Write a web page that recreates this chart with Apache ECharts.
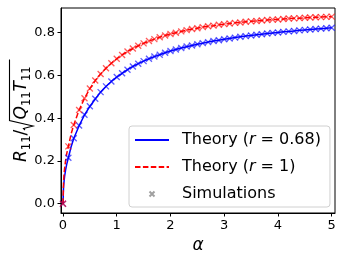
<!DOCTYPE html>
<html>
<head>
<meta charset="utf-8">
<script src="https://cdn.jsdelivr.net/npm/echarts@6/dist/echarts.min.js"></script>
<style>
html,body{margin:0;padding:0;background:#fff;}
#chart{width:345px;height:259px;}
</style>
</head>
<body>
<div id="chart"></div>
<script>
// ---- data ----
const theoryAlpha = [0, 0.01, 0.02, 0.03, 0.05, 0.07, 0.1, 0.15, 0.2, 0.3, 0.4, 0.5, 0.6, 0.7, 0.8, 0.9, 1.0,
  1.1, 1.2, 1.3, 1.4, 1.5, 1.6, 1.7, 1.8, 1.9, 2.0, 2.1, 2.2, 2.3, 2.4, 2.5, 2.6, 2.7, 2.8, 2.9, 3.0,
  3.1, 3.2, 3.3, 3.4, 3.5, 3.6, 3.7, 3.8, 3.9, 4.0, 4.1, 4.2, 4.3, 4.4, 4.5, 4.6, 4.7, 4.8, 4.9, 5.0];
const theoryR068 = [0, 0.075, 0.105, 0.128, 0.160, 0.185, 0.215, 0.265, 0.305, 0.365, 0.415, 0.455, 0.490, 0.522, 0.548, 0.572, 0.592,
  0.610, 0.627, 0.642, 0.655, 0.667, 0.678, 0.688, 0.697, 0.706, 0.714, 0.721, 0.728, 0.734, 0.740, 0.746, 0.751, 0.756, 0.761, 0.765, 0.769,
  0.773, 0.777, 0.781, 0.784, 0.787, 0.790, 0.793, 0.796, 0.799, 0.801, 0.804, 0.806, 0.808, 0.811, 0.813, 0.815, 0.817, 0.819, 0.821, 0.823];
const theoryR1 = [0, 0.100, 0.140, 0.165, 0.205, 0.235, 0.268, 0.325, 0.368, 0.438, 0.493, 0.538, 0.576, 0.607, 0.634, 0.657, 0.678,
  0.696, 0.712, 0.726, 0.739, 0.750, 0.761, 0.770, 0.779, 0.787, 0.794, 0.800, 0.806, 0.812, 0.817, 0.821, 0.826, 0.830, 0.833, 0.837, 0.840,
  0.843, 0.846, 0.848, 0.851, 0.853, 0.855, 0.857, 0.859, 0.861, 0.862, 0.864, 0.866, 0.867, 0.868, 0.870, 0.871, 0.872, 0.873, 0.874, 0.875];

const simAlpha = [0, 0.1, 0.2, 0.3, 0.4, 0.5, 0.6, 0.7, 0.8, 0.9, 1.0,
  1.1, 1.2, 1.3, 1.4, 1.5, 1.6, 1.7, 1.8, 1.9, 2.0, 2.1, 2.2, 2.3, 2.4, 2.5, 2.6, 2.7, 2.8, 2.9, 3.0,
  3.1, 3.2, 3.3, 3.4, 3.5, 3.6, 3.7, 3.8, 3.9, 4.0, 4.1, 4.2, 4.3, 4.4, 4.5, 4.6, 4.7, 4.8, 4.9, 5.0];
const simR068 = [0, 0.215, 0.306, 0.366, 0.416, 0.456, 0.491, 0.522, 0.549, 0.572, 0.593,
  0.610, 0.627, 0.642, 0.655, 0.667, 0.678, 0.689, 0.697, 0.706, 0.714, 0.721, 0.728, 0.735, 0.740, 0.746, 0.751, 0.756, 0.761, 0.765, 0.769,
  0.773, 0.777, 0.781, 0.784, 0.787, 0.790, 0.793, 0.796, 0.799, 0.801, 0.804, 0.806, 0.808, 0.811, 0.813, 0.815, 0.817, 0.819, 0.821, 0.823];
const simR1 = [0, 0.268, 0.368, 0.438, 0.493, 0.539, 0.576, 0.607, 0.634, 0.657, 0.678,
  0.696, 0.712, 0.726, 0.739, 0.750, 0.761, 0.770, 0.779, 0.787, 0.794, 0.800, 0.806, 0.812, 0.817, 0.821, 0.826, 0.830, 0.833, 0.837, 0.840,
  0.843, 0.846, 0.848, 0.851, 0.853, 0.855, 0.857, 0.859, 0.861, 0.862, 0.864, 0.866, 0.867, 0.868, 0.870, 0.871, 0.872, 0.873, 0.874, 0.875];

const xTicks = [0, 1, 2, 3, 4, 5];
const yTicks = [0, 0.2, 0.4, 0.6, 0.8];
const seriesNames = ['Theory (r = 0.68)', 'Theory (r = 1)', 'Simulations'];

// ---- chart ----
const zip = (xs, ys) => xs.map((x, i) => [x, ys[i]]);
const FONT = '"DejaVu Sans", sans-serif';
const XSYM = 'path://M0,0L10,10M10,0L0,10';

const chart = echarts.init(document.getElementById('chart'), null, {renderer: 'canvas'});

const overlineY = 9.5;
const labelRich = {
  i: {fontFamily: FONT, fontSize: 17, fontStyle: 'italic', fill: '#000', lineHeight: 20, verticalAlign: 'top'},
  n: {fontFamily: FONT, fontSize: 17, fill: '#000', lineHeight: 20, verticalAlign: 'top'},
  s: {fontFamily: FONT, fontSize: 11.5, fill: '#000', lineHeight: 10, verticalAlign: 'bottom'}
};
chart.setOption({
  animation: false,
  backgroundColor: '#fff',
  grid: {left: 61, right: 10, top: 8, bottom: 46, show: true, borderColor: '#000', borderWidth: 1, containLabel: false},
  xAxis: {
    type: 'value', min: -0.037, max: 5.061,
    axisLine: {show: true, onZero: false, lineStyle: {color: '#000', width: 1}},
    axisTick: {show: true, length: 3.5, lineStyle: {color: '#000'}, customValues: xTicks},
    axisLabel: {customValues: xTicks, color: '#000', fontFamily: FONT, fontSize: 13, margin: 6,
      formatter: v => String(Math.round(v))},
    splitLine: {show: false},
    name: 'α', nameLocation: 'middle', nameGap: 24,
    nameTextStyle: {fontFamily: FONT, fontStyle: 'italic', fontSize: 17, color: '#000'}
  },
  yAxis: {
    type: 'value', min: -0.0435, max: 0.9155,
    axisLine: {show: true, onZero: false, lineStyle: {color: '#000', width: 1}},
    axisTick: {show: true, length: 3.5, lineStyle: {color: '#000'}, customValues: yTicks},
    axisLabel: {customValues: yTicks, color: '#000', fontFamily: FONT, fontSize: 13, margin: 6,
      formatter: v => v.toFixed(1)},
    splitLine: {show: false}
  },
  legend: {
    orient: 'vertical', left: 129, top: 126,
    data: [
      {name: seriesNames[0], itemStyle: {opacity: 0}},
      {name: seriesNames[1], itemStyle: {opacity: 0}},
      {name: seriesNames[2]}
    ],
    itemWidth: 34, itemHeight: 5, itemGap: 11,
    padding: [6, 9, 5, 5],
    backgroundColor: 'rgba(255,255,255,0.85)',
    borderColor: '#d0d0d0', borderWidth: 1, borderRadius: 3,
    textStyle: {
      fontFamily: FONT, fontSize: 16, color: '#000', padding: [0, 0, 0, 8],
      rich: {
        n: {fontFamily: FONT, fontSize: 16, color: '#000'},
        i: {fontFamily: FONT, fontSize: 16, fontStyle: 'italic', color: '#000'}
      }
    },
    formatter: name => {
      if (name === seriesNames[0]) return '{n|Theory (}{i|r}{n| = 0.68)}';
      if (name === seriesNames[1]) return '{n|Theory (}{i|r}{n| = 1)}';
      return '{n|' + name + '}';
    }
  },
  graphic: [{
    type: 'group', x: 0, y: 162, rotation: Math.PI / 2, silent: true,
    children: [
      {type: 'text', x: 0, y: 13, style: {text: '{i|R}{s|11}{n|/}', rich: labelRich}},
      {type: 'polyline', shape: {points: [[32, 25], [33.5, 23.5], [36, 33], [41.5, overlineY], [102.5, overlineY]]},
        style: {stroke: '#000', lineWidth: 1.1, fill: null}},
      {type: 'text', x: 42.5, y: 13, style: {text: '{i|Q}{s|11}{i|T}{s|11}', rich: labelRich}}
    ]
  }],
  series: [
    {
      name: seriesNames[0], type: 'line', data: zip(theoryAlpha, theoryR068),
      showSymbol: false, symbol: 'none', color: '#0000ff',
      lineStyle: {color: '#0000ff', width: 1.5}, z: 2
    },
    {
      name: seriesNames[1], type: 'line', data: zip(theoryAlpha, theoryR1),
      showSymbol: false, symbol: 'none', color: '#ff0000',
      lineStyle: {color: '#ff0000', width: 1.5, type: [5.5, 2.4]}, z: 3
    },
    {
      name: 'sim068', type: 'scatter', data: zip(simAlpha, simR068),
      symbol: XSYM, symbolSize: 6, symbolKeepAspect: true,
      itemStyle: {color: 'rgba(0,0,0,0)', borderColor: 'rgba(0,0,255,0.8)', borderWidth: 1.3}, z: 4
    },
    {
      name: 'sim1', type: 'scatter', data: zip(simAlpha, simR1),
      symbol: XSYM, symbolSize: 6, symbolKeepAspect: true,
      itemStyle: {color: 'rgba(0,0,0,0)', borderColor: 'rgba(255,0,0,0.8)', borderWidth: 1.3}, z: 5
    },
    {
      name: seriesNames[2], type: 'scatter', data: [],
      symbol: XSYM, symbolSize: 5, symbolKeepAspect: true,
      itemStyle: {color: 'rgba(0,0,0,0)', borderColor: '#888', borderWidth: 1.2}
    }
  ]
});
</script>
</body>
</html>
